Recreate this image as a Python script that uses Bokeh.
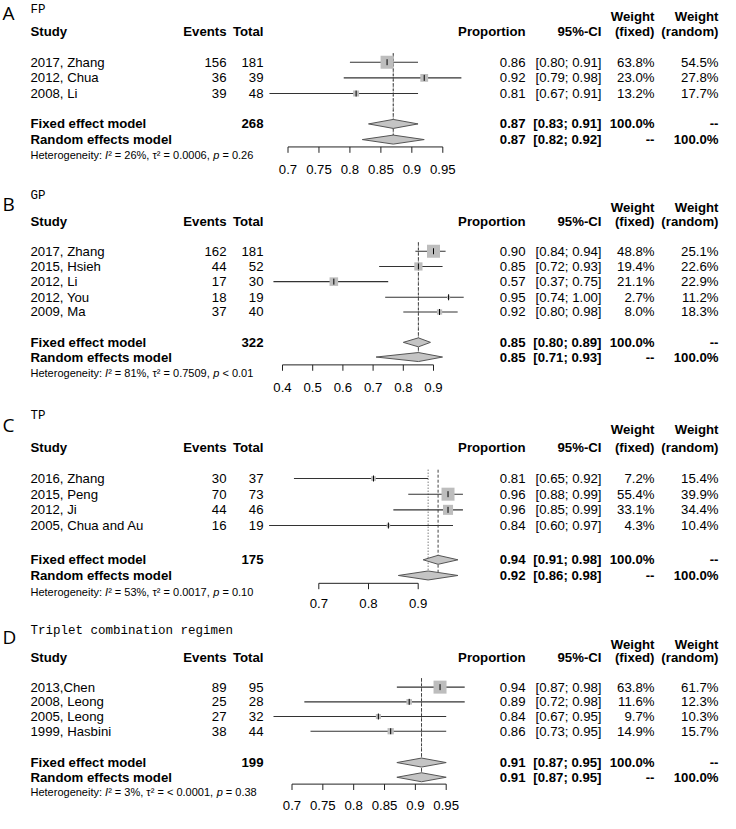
import numpy as np
from bokeh.plotting import figure
from bokeh.models import Range1d, ColumnDataSource
from bokeh.core.properties import value
from bokeh.embed import file_html
from bokeh.resources import INLINE

# ---------------- data ----------------
a_title = "FP"
a_study = ["2017, Zhang", "2012, Chua", "2008, Li"]
a_events = [156, 36, 39]
a_total = [181, 39, 48]
a_prop = [0.86, 0.92, 0.81]
a_lower = [0.80, 0.79, 0.67]
a_upper = [0.91, 0.98, 0.91]
a_wfix = [63.8, 23.0, 13.2]
a_wran = [54.5, 27.8, 17.7]
a_fixed = [0.87, 0.83, 0.91]
a_random = [0.87, 0.82, 0.92]
a_sum = 268
a_het = "Heterogeneity: I² = 26%, τ² = 0.0006, p = 0.26"
a_ticks = [0.7, 0.75, 0.8, 0.85, 0.9, 0.95]

b_title = "GP"
b_study = ["2017, Zhang", "2015, Hsieh", "2012, Li", "2012, You", "2009, Ma"]
b_events = [162, 44, 17, 18, 37]
b_total = [181, 52, 30, 19, 40]
b_prop = [0.90, 0.85, 0.57, 0.95, 0.92]
b_lower = [0.84, 0.72, 0.37, 0.74, 0.80]
b_upper = [0.94, 0.93, 0.75, 1.00, 0.98]
b_wfix = [48.8, 19.4, 21.1, 2.7, 8.0]
b_wran = [25.1, 22.6, 22.9, 11.2, 18.3]
b_fixed = [0.85, 0.80, 0.89]
b_random = [0.85, 0.71, 0.93]
b_sum = 322
b_het = "Heterogeneity: I² = 81%, τ² = 0.7509, p < 0.01"
b_ticks = [0.4, 0.5, 0.6, 0.7, 0.8, 0.9]

c_title = "TP"
c_study = ["2016, Zhang", "2015, Peng", "2012, Ji", "2005, Chua and Au"]
c_events = [30, 70, 44, 16]
c_total = [37, 73, 46, 19]
c_prop = [0.81, 0.96, 0.96, 0.84]
c_lower = [0.65, 0.88, 0.85, 0.60]
c_upper = [0.92, 0.99, 0.99, 0.97]
c_wfix = [7.2, 55.4, 33.1, 4.3]
c_wran = [15.4, 39.9, 34.4, 10.4]
c_fixed = [0.94, 0.91, 0.98]
c_random = [0.92, 0.86, 0.98]
c_sum = 175
c_het = "Heterogeneity: I² = 53%, τ² = 0.0017, p = 0.10"
c_ticks = [0.7, 0.8, 0.9]

d_title = "Triplet combination regimen"
d_study = ["2013,Chen", "2008, Leong", "2005, Leong", "1999, Hasbini"]
d_events = [89, 25, 27, 38]
d_total = [95, 28, 32, 44]
d_prop = [0.94, 0.89, 0.84, 0.86]
d_lower = [0.87, 0.72, 0.67, 0.73]
d_upper = [0.98, 0.98, 0.95, 0.95]
d_wfix = [63.8, 11.6, 9.7, 14.9]
d_wran = [61.7, 12.3, 10.3, 15.7]
d_fixed = [0.91, 0.87, 0.95]
d_random = [0.91, 0.87, 0.95]
d_sum = 199
d_het = "Heterogeneity: I² = 3%, τ² = < 0.0001, p = 0.38"
d_ticks = [0.7, 0.75, 0.8, 0.85, 0.9, 0.95]

panel_letters = ["A", "B", "C", "D"]

# ---------------- layout (reference pixel space) ----------------
XA, XB = 0, 720
YB, YT = 831, 1
W, H = 720, 813
FS = "13.2px"
HET_PX = 11.0
FS_HET = f"{HET_PX}px"
SANS = "Liberation Sans"

layouts = [
    dict(letter=14, title=10.5, weight=17, header=33, rows=[64, 80, 96],
         fixed=127, random=143, het=159, axis=150.5, labels=174, anchor=(287.5, 442.3)),
    dict(letter=209, title=201, weight=212, header=227, rows=[257, 272.5, 288, 304, 319],
         fixed=350, random=365, het=381, axis=373, labels=396, anchor=(282, 433)),
    dict(letter=434, title=425, weight=439, header=457, rows=[489, 505, 521, 537],
         fixed=572, random=588, het=605, axis=596, labels=617, anchor=(318.3, 417.7)),
    dict(letter=651, title=645, weight=658, header=672, rows=[702, 717, 732, 747],
         fixed=779, random=794, het=809, axis=801, labels=823, anchor=(291.5, 445.7)),
]

panels = [
    dict(title=a_title, study=a_study, events=a_events, total=a_total, prop=a_prop, lower=a_lower,
         upper=a_upper, wfix=a_wfix, wran=a_wran, fixed=a_fixed, random=a_random, sum=a_sum,
         het=a_het, ticks=a_ticks),
    dict(title=b_title, study=b_study, events=b_events, total=b_total, prop=b_prop, lower=b_lower,
         upper=b_upper, wfix=b_wfix, wran=b_wran, fixed=b_fixed, random=b_random, sum=b_sum,
         het=b_het, ticks=b_ticks),
    dict(title=c_title, study=c_study, events=c_events, total=c_total, prop=c_prop, lower=c_lower,
         upper=c_upper, wfix=c_wfix, wran=c_wran, fixed=c_fixed, random=c_random, sum=c_sum,
         het=c_het, ticks=c_ticks),
    dict(title=d_title, study=d_study, events=d_events, total=d_total, prop=d_prop, lower=d_lower,
         upper=d_upper, wfix=d_wfix, wran=d_wran, fixed=d_fixed, random=d_random, sum=d_sum,
         het=d_het, ticks=d_ticks),
]

COL_STUDY = 30
COL_EVENTS = 226
COL_TOTAL = 263
COL_PROP = 525
COL_CI = 601
COL_WF = 654
COL_WR = 718

# Arial / Liberation Sans advance widths (per 1000 em) for splitting the heterogeneity line
ADV = {' ': 278, '%': 889, ',': 278, '.': 278, ':': 278, ';': 278, '<': 584, '=': 584,
       'H': 722, 'I': 278, 'e': 556, 'g': 556, 'i': 222, 'n': 556, 'o': 556, 'p': 556,
       'r': 333, 't': 278, 'y': 500, '²': 333, 'τ': 440}
for _d in "0123456789":
    ADV[_d] = 556


def text_width(s, px):
    return sum(ADV.get(ch, 556) for ch in s) * px / 1000.0


p = figure(width=W, height=H, x_range=Range1d(XA, XB), y_range=Range1d(YB, YT),
           output_backend="svg", toolbar_location=None, min_border=0,
           x_axis_location=None, y_axis_location=None)
p.grid.visible = False
p.outline_line_color = None
p.background_fill_color = "white"


def txt(xs, ys, texts, align="left", bold=False, italic=False, size=FS, font=SANS, color="black", xr=None):
    src = ColumnDataSource(dict(x=list(xs), y=list(ys), t=list(texts)))
    kw = {}
    if xr is not None:
        kw["x_range_name"] = xr
    style = "bold" if bold else ("italic" if italic else "normal")
    p.text(x="x", y="y", text="t", source=src, text_align=align, text_baseline="middle",
           text_font=value(font), text_font_size=value(size),
           text_font_style=style, text_color=color, **kw)


for i, (pd_, lay) in enumerate(zip(panels, layouts)):
    name = f"f{i}"
    t0, t1 = pd_["ticks"][0], pd_["ticks"][-1]
    X0, X1 = lay["anchor"]
    dpx = (t1 - t0) / (X1 - X0)
    p.extra_x_ranges[name] = Range1d(start=t0 - (X0 - XA) * dpx, end=t0 + (XB - X0) * dpx)

    # letter and title
    txt([2], [lay["letter"]], [panel_letters[i]], size="19px", font="Open Sans")
    txt([COL_STUDY], [lay["title"]], [pd_["title"]], size="12.5px", font="Liberation Mono")

    # headers
    hy = lay["header"]
    txt([COL_STUDY], [hy], ["Study"], bold=True)
    txt([COL_EVENTS, COL_TOTAL, COL_PROP, COL_CI, COL_WF, COL_WR], [hy] * 6,
        ["Events", "Total", "Proportion", "95%-CI", "(fixed)", "(random)"], align="right", bold=True)
    txt([COL_WF, COL_WR], [lay["weight"]] * 2, ["Weight", "Weight"], align="right", bold=True)

    rows = lay["rows"]
    n = len(rows)
    # study rows text
    txt([COL_STUDY] * n, rows, pd_["study"])
    txt([COL_EVENTS] * n, rows, [str(v) for v in pd_["events"]], align="right")
    txt([COL_TOTAL] * n, rows, [str(v) for v in pd_["total"]], align="right")
    txt([COL_PROP] * n, rows, [f"{v:.2f}" for v in pd_["prop"]], align="right")
    txt([COL_CI] * n, rows, [f"[{l:.2f}; {u:.2f}]" for l, u in zip(pd_["lower"], pd_["upper"])], align="right")
    txt([COL_WF] * n, rows, [f"{v:.1f}%" for v in pd_["wfix"]], align="right")
    txt([COL_WR] * n, rows, [f"{v:.1f}%" for v in pd_["wran"]], align="right")

    # model rows
    fy, ry = lay["fixed"], lay["random"]
    fe, re_ = pd_["fixed"], pd_["random"]
    txt([COL_STUDY, COL_STUDY], [fy, ry], ["Fixed effect model", "Random effects model"], bold=True)
    txt([COL_TOTAL], [fy], [str(pd_["sum"])], align="right", bold=True)
    txt([COL_PROP, COL_PROP], [fy, ry], [f"{fe[0]:.2f}", f"{re_[0]:.2f}"], align="right", bold=True)
    txt([COL_CI, COL_CI], [fy, ry], [f"[{fe[1]:.2f}; {fe[2]:.2f}]", f"[{re_[1]:.2f}; {re_[2]:.2f}]"],
        align="right", bold=True)
    txt([COL_WF, COL_WF], [fy, ry], ["100.0%", "--"], align="right", bold=True)
    txt([COL_WR, COL_WR], [fy, ry], ["--", "100.0%"], align="right", bold=True)

    # heterogeneity line, with italic I and p (leading spaces advanced manually)
    het = pd_["het"]
    pre, _, rest = het.partition("I")
    mid, _, post = rest.partition("p")
    pieces = [(pre, False), ("I", True), (mid, False), ("p", True), (post, False)]
    xcur = COL_STUDY
    for s, it in pieces:
        stripped = s.lstrip(" ")
        xcur += text_width(s[:len(s) - len(stripped)], HET_PX)
        if stripped:
            txt([xcur], [lay["het"]], [stripped], italic=it, size=FS_HET)
        xcur += text_width(stripped, HET_PX)

    # reference lines
    top = rows[0] - 9
    bot = lay["axis"] - 4
    p.segment(x0=[fe[0]], x1=[fe[0]], y0=[top], y1=[bot], x_range_name=name,
              line_color="#444444", line_width=1, line_dash="3 2")
    p.segment(x0=[re_[0]], x1=[re_[0]], y0=[top], y1=[bot], x_range_name=name,
              line_color="#444444", line_width=1, line_dash="1 2")

    # CI lines
    p.segment(x0=pd_["lower"], x1=pd_["upper"], y0=rows, y1=rows, x_range_name=name,
              line_color="#333333", line_width=1.1)
    # squares sized by fixed weight
    wmax = max(pd_["wfix"])
    sizes = [13 * np.sqrt(w / wmax) for w in pd_["wfix"]]
    p.scatter(x=pd_["prop"], y=rows, size=sizes, marker="square", x_range_name=name,
              fill_color="#bdbdbd", line_color=None)
    p.scatter(x=pd_["prop"], y=rows, size=6, marker="dash", angle=np.pi / 2, x_range_name=name,
              line_color="black", line_width=1)

    # diamonds
    hh = 4.6
    p.patches(xs=[[fe[1], fe[0], fe[2], fe[0]], [re_[1], re_[0], re_[2], re_[0]]],
              ys=[[fy, fy - hh, fy, fy + hh], [ry, ry - hh, ry, ry + hh]],
              x_range_name=name, fill_color="#c4c4c4", line_color="#555555", line_width=1)

    # axis
    ticks = pd_["ticks"]
    ay = lay["axis"]
    p.segment(x0=[ticks[0]], x1=[ticks[-1]], y0=[ay], y1=[ay], x_range_name=name,
              line_color="#222222", line_width=1)
    p.segment(x0=ticks, x1=ticks, y0=[ay] * len(ticks), y1=[ay + 6] * len(ticks), x_range_name=name,
              line_color="#222222", line_width=1)
    txt(ticks, [lay["labels"]] * len(ticks), [f"{t:g}" for t in ticks], align="center", xr=name)

open("out.html", "w").write(file_html(p, INLINE))
